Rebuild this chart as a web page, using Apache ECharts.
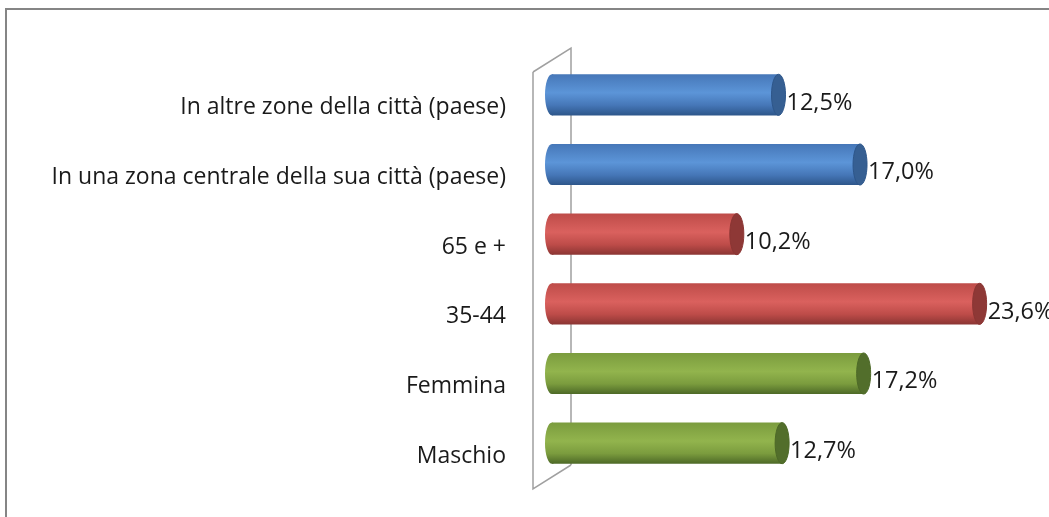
<!DOCTYPE html>
<html>
<head>
<meta charset="utf-8">
<script src="https://cdn.jsdelivr.net/npm/echarts@6/dist/echarts.min.js"></script>
<style>
  html, body { margin: 0; padding: 0; background: #fff; }
  #chart { width: 1049px; height: 517px; }
</style>
</head>
<body>
<div id="chart"></div>
<script>
// categorie dall'alto verso il basso
var categories = [
  'In altre zone della città (paese)',
  'In una zona centrale della sua città (paese)',
  '65 e +',
  '35-44',
  'Femmina',
  'Maschio'
]
var values = [12.5, 17.0, 10.2, 23.6, 17.2, 12.7]
var groups = ['zona', 'zona', 'eta', 'eta', 'sesso', 'sesso']

// colori stile Excel (cilindri)
var palette = {
  zona:  { top: '#4677b8', mid: '#5c95d8', bot: '#2d568a', cap: '#365f92' },
  eta:   { top: '#be4c49', mid: '#da615e', bot: '#8b3533', cap: '#8e3836' },
  sesso: { top: '#7b9c3e', mid: '#92b44d', bot: '#4d6927', cap: '#526e2b' }
}

function fmt(v) {
  return v.toFixed(1).replace('.', ',') + '%'
}

var chart = echarts.init(document.getElementById('chart'))

function renderBar(params, api) {
  var idx = api.value(0)
  var v = api.value(1)
  var c = palette[groups[idx]]
  var p0 = api.coord([0, idx])
  var p1 = api.coord([v, idx])
  var h = api.size([0, 1])[1] * 0.59
  var rx = 7
  var grad = new echarts.graphic.LinearGradient(0, 0, 0, 1, [
    { offset: 0, color: c.top },
    { offset: 0.45, color: c.mid },
    { offset: 0.75, color: c.top },
    { offset: 1, color: c.bot }
  ])
  return {
    type: 'group',
    children: [
      { type: 'ellipse', shape: { cx: p0[0], cy: p0[1], rx: rx, ry: h / 2 }, style: { fill: grad } },
      { type: 'rect', shape: { x: p0[0], y: p0[1] - h / 2, width: p1[0] - p0[0], height: h }, style: { fill: grad } },
      { type: 'ellipse', shape: { cx: p1[0], cy: p1[1], rx: rx, ry: h / 2 }, style: { fill: c.cap, stroke: c.bot, lineWidth: 1 } },
      {
        type: 'text',
        x: p1[0] + rx + 1,
        y: p1[1] + 8,
        style: {
          text: fmt(v),
          fill: '#1a1a1a',
          font: '23.5px "Open Sans"',
          verticalAlign: 'middle',
          align: 'left'
        }
      }
    ]
  }
}

var option = {
  animation: false,
  grid: { left: 552, right: 44, top: 60, bottom: 39 },
  xAxis: { type: 'value', min: 0, max: 25, show: false },
  yAxis: {
    type: 'category',
    inverse: true,
    data: categories,
    axisLine: { show: false },
    axisTick: { show: false },
    splitLine: { show: false },
    axisLabel: {
      margin: 46,
      fontFamily: 'Open Sans',
      fontSize: 23,
      lineHeight: 26,
      color: '#1a1a1a',
      // spinge l'etichetta in basso (piano frontale del 3D)
      formatter: function (v) { return '\n' + v }
    }
  },
  graphic: [
    // cornice
    { type: 'rect', z: -10, shape: { x: 6, y: 9, width: 1100, height: 600 }, style: { fill: 'none', stroke: '#858585', lineWidth: 2 } },
    // parete 3D dell'asse
    { type: 'polyline', z: -10, shape: { points: [[533, 72], [571, 48], [571, 465]] }, style: { fill: 'none', stroke: '#a0a0a0', lineWidth: 1.5 } },
    { type: 'polyline', z: -10, shape: { points: [[533, 72], [533, 489], [571, 465]] }, style: { fill: 'none', stroke: '#a0a0a0', lineWidth: 1.5 } }
  ],
  series: [{
    type: 'custom',
    z: 5,
    renderItem: renderBar,
    encode: { x: 1, y: 0 },
    data: values.map(function (v, i) { return [i, v] })
  }]
}

chart.setOption(option)
</script>
</body>
</html>
